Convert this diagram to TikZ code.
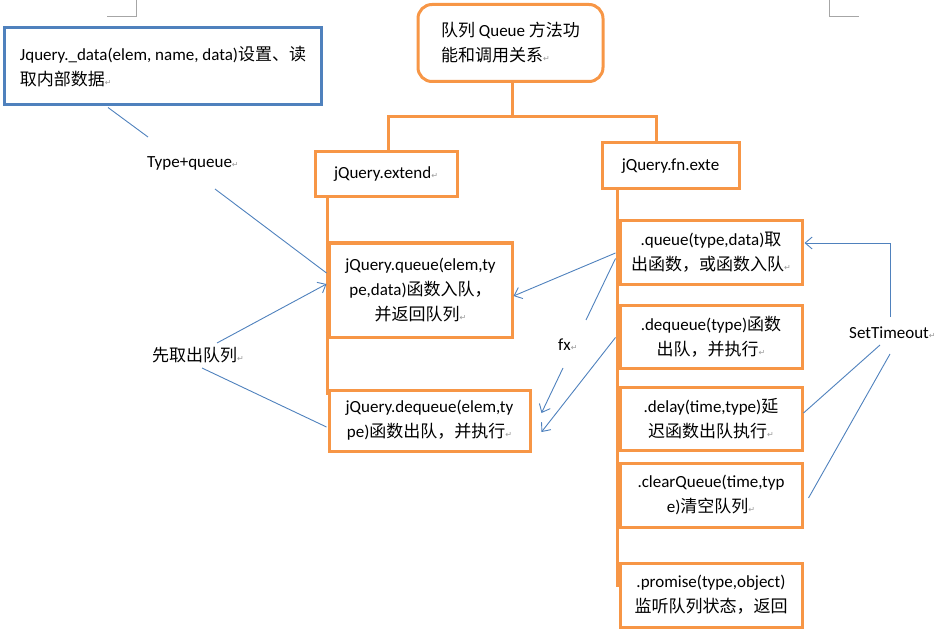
\documentclass[tikz,border=0pt]{standalone}
\usepackage{fontspec}
\setmainfont{Carlito}
\newfontfamily\cjk{Noto Sans CJK SC}
\newfontfamily\dvfont{DejaVu Sans}
\usetikzlibrary{arrows.meta,calc}
\definecolor{ora}{HTML}{F79646}
\definecolor{blu}{HTML}{4F81BD}
\definecolor{cropgray}{HTML}{A6A6A6}
\newcommand\zh[1]{{\cjk #1}}
\newcommand\retm{{\dvfont\color{black!40}\fontsize{8}{8}\selectfont ↵}}
\begin{document}
\begin{tikzpicture}[x=1pt,y=-1pt,
  txt/.style={font=\fontsize{17}{25}\selectfont, align=center, inner sep=0pt},
  obox/.style={txt, draw=ora, line width=3pt, fill=white},
  oline/.style={draw=ora, line width=3pt},
  conn/.style={draw=blu, line width=0.9pt},
  arr/.style={conn, -{Straight Barb[length=7pt,width=12pt]}},
  lbl/.style={txt, anchor=west}]
\useasboundingbox (0,0) rectangle (945,639);
% crop marks
\draw[cropgray, line width=0.8pt] (107,16) -- (136,16) -- (136,0);
\draw[cropgray, line width=0.8pt] (859,16) -- (829,16) -- (829,0);

% nodes
\node[txt, draw=blu, line width=3pt, fill=white, minimum width=317pt, minimum height=77pt, align=left] (blue) at (163,66.5)
  {Jquery.\_data(elem, name, data)\zh{设置、读}\\\zh{取内部数据}\retm};
\node[obox, rounded corners=14pt, minimum width=185pt, minimum height=77pt, align=left] (title) at (510.5,43)
  {\zh{队列} Queue \zh{方法功}\\\zh{能和调用关系}\retm};

% orange tree lines (under boxes)
\draw[oline] ($(title.south)+(1.5,0)$) -- ++(0,34) coordinate (junc);
\coordinate (extTop) at (388,152);
\coordinate (fnTop) at (656,143);
\draw[oline] (extTop) |- (junc) -| (fnTop);
\draw[oline] (327,197) -- (327,395);
\draw[oline] (617,189) -- (617,587);

\node[obox, minimum width=142pt, minimum height=45pt] (ext) at (386,174.5) {jQuery.extend\retm};
\node[obox, minimum width=137pt, minimum height=46pt] (fn) at (670.5,166) {jQuery.fn.exte};

\node[obox, minimum width=183pt, minimum height=94pt] (qL) at (420.5,290)
  {jQuery.queue(elem,ty\\pe,data)\zh{函数入队，}\\\zh{并返回队列}\retm};
\node[obox, minimum width=201pt, minimum height=61pt] (dqL) at (429.5,420.5)
  {jQuery.dequeue(elem,ty\\pe)\zh{函数出队，并执行}\retm};

\node[obox, minimum width=182pt, minimum height=63pt] (qR) at (711,252.5)
  {.queue(type,data)\zh{取}\\\zh{出函数，或函数入队}\retm};
\node[obox, minimum width=182pt, minimum height=63pt] (dqR) at (711,336.5)
  {.dequeue(type)\zh{函数}\\\zh{出队，并执行}\retm};
\node[obox, minimum width=182pt, minimum height=63pt] (dl) at (711,418.5)
  {.delay(time,type)\zh{延}\\\zh{迟函数出队执行}\retm};
\node[obox, minimum width=182pt, minimum height=64pt] (cq) at (711,495)
  {.clearQueue(time,typ\\e)\zh{清空队列}\retm};
\node[obox, minimum width=182pt, minimum height=64pt] (pr) at (711,595)
  {.promise(type,object)\\\zh{监听队列状态，返回}};

% labels
\node[lbl] (tq) at (147,163) {Type+queue\retm};
\node[lbl] (xq) at (152,355) {\zh{先取出队列}\retm};
\node[lbl] (fx) at (558,345) {fx\retm};
\node[lbl] (st) at (849,333) {SetTimeout\retm};

% blue connectors
\draw[conn] ($(blue.south)+(-55,1)$) -- ($(tq.west)+(1,-26)$);
\draw[conn] ($(tq.west)+(68,26)$) -- ($(qL.west)+(-1,-17)$);
\draw[arr] ($(xq.west)+(65,-12)$) -- ($(qL.west)+(-1,-6)$);
\draw[conn] ($(xq.west)+(50,13)$) -- ($(dqL.west)+(-1,6.5)$);
\draw[arr] ($(qR.west)+(-3,0.5)$) -- ($(qL.east)+(0,6)$);
\draw[conn] ($(qR.west)+(-3,6)$) -- ($(fx.west)+(28,-25)$);
\draw[arr] ($(fx.west)+(5,23)$) -- ($(dqL.east)+(10,-7.5)$);
\draw[arr] ($(dqR.west)+(-3,1)$) -- ($(dqL.east)+(10,11.5)$);
\draw[arr] ($(st.west)+(41,-16)$) |- ($(qR.east)+(1,-9.5)$);
\draw[conn] ($(st.west)+(31,12)$) -- ($(dl.east)+(0,-5.5)$);
\draw[conn] ($(st.west)+(41,21)$) -- ($(cq.east)+(5,3)$);
\end{tikzpicture}
\end{document}
